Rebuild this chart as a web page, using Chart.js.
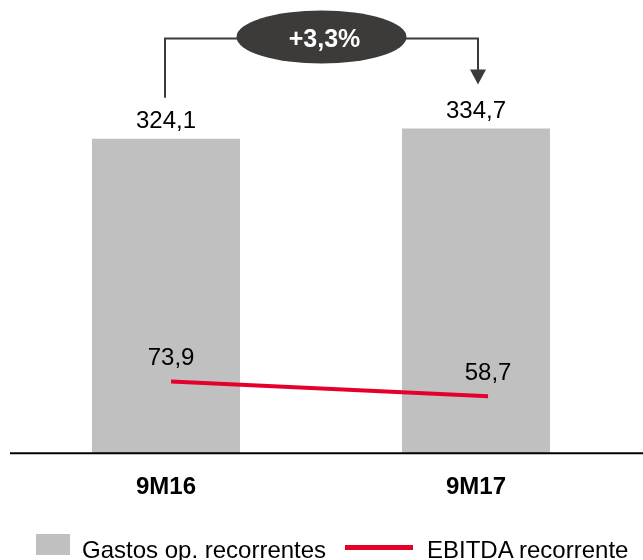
<!DOCTYPE html>
<html>
<head>
<meta charset="utf-8">
<script src="https://cdn.jsdelivr.net/npm/chart.js@4"></script>
<style>
  html, body { margin: 0; padding: 0; background: #fff; }
  #wrap { position: relative; width: 643px; height: 560px; overflow: hidden; font-family: 'Liberation Sans', Arial, sans-serif; }
  #wrap canvas { position: absolute; left: 0; top: 0; }
  .lg { position: absolute; }
  .lgText { position: absolute; font-size: 24px; line-height: 28px; color: #000; white-space: nowrap; }
</style>
</head>
<body>
<div id="wrap">
  <canvas id="c" width="643" height="560"></canvas>
  <div id="legend"></div>
</div>
<script>
const categories = ['9M16', '9M17'];
const gastosValues = [324.1, 334.7];
const ebitdaValues = [73.9, 58.7];
const seriesNames = ['Gastos op. recorrentes', 'EBITDA recorrente'];
const changeLabel = '+3,3%';

const BAR_COLOR = '#c0c0c0';
const LINE_COLOR = '#e4002b';
const DARK = '#3d3b39';
const FONT = "'Liberation Sans', Arial, sans-serif";

const fmt = v => v.toFixed(1).replace('.', ',');

const labelsPlugin = {
  id: 'valueLabels',
  afterDatasetsDraw(chart) {
    const ctx = chart.ctx;
    const yScale = chart.scales.y;
    // baseline
    ctx.save();
    ctx.strokeStyle = '#000';
    ctx.lineWidth = 2;
    ctx.beginPath();
    const by = yScale.getPixelForValue(0);
    ctx.moveTo(10, by);
    ctx.lineTo(chart.width, by);
    ctx.stroke();
    ctx.restore();

    ctx.save();
    ctx.font = '24px ' + FONT;
    ctx.fillStyle = '#000';
    ctx.textAlign = 'center';
    ctx.textBaseline = 'middle';
    const barMeta = chart.getDatasetMeta(0);
    barMeta.data.forEach((el, i) => {
      ctx.fillText(fmt(gastosValues[i]), el.x, el.y - 17);
    });
    const lineMeta = chart.getDatasetMeta(1);
    lineMeta.data.forEach((el, i) => {
      ctx.fillText(fmt(ebitdaValues[i]), el.x, el.y - 23);
    });
    ctx.restore();

    // change annotation
    const b0 = barMeta.data[0], b1 = barMeta.data[1];
    const x0 = b0.x - 1, x1 = b1.x + 2;
    const hy = 38.5;
    const y0 = b0.y - 41;
    const tipY = b1.y - 44;
    ctx.save();
    ctx.strokeStyle = DARK;
    ctx.fillStyle = DARK;
    ctx.lineWidth = 2;
    ctx.beginPath();
    ctx.moveTo(x0, y0);
    ctx.lineTo(x0, hy);
    ctx.lineTo(x1, hy);
    ctx.lineTo(x1, tipY - 14);
    ctx.stroke();
    ctx.beginPath();
    ctx.moveTo(x1 - 8, tipY - 15);
    ctx.lineTo(x1 + 8, tipY - 15);
    ctx.lineTo(x1, tipY);
    ctx.closePath();
    ctx.fill();
    const cx = (x0 + x1) / 2;
    ctx.beginPath();
    ctx.ellipse(cx, 37, 85, 26.5, 0, 0, Math.PI * 2);
    ctx.fill();
    ctx.fillStyle = '#fff';
    ctx.font = 'bold 25px ' + FONT;
    ctx.textAlign = 'center';
    ctx.textBaseline = 'middle';
    ctx.fillText(changeLabel, cx + 3, 40);
    ctx.restore();
  }
};

const chart = new Chart(document.getElementById('c'), {
  type: 'bar',
  data: {
    labels: categories,
    datasets: [
      {
        type: 'bar',
        label: seriesNames[0],
        data: gastosValues,
        xAxisID: 'x',
        backgroundColor: BAR_COLOR,
        barPercentage: 148 / 310,
        categoryPercentage: 1,
        grouped: false,
        order: 2
      },
      {
        type: 'line',
        label: seriesNames[1],
        data: ebitdaValues.map((v, i) => ({ x: i, y: v })),
        xAxisID: 'x2',
        borderColor: LINE_COLOR,
        backgroundColor: LINE_COLOR,
        borderWidth: 4,
        pointRadius: 0,
        tension: 0,
        order: 1
      }
    ]
  },
  options: {
    responsive: false,
    animation: false,
    layout: { padding: { top: 7, left: 11, right: 12, bottom: 46 } },
    plugins: { legend: { display: false }, tooltip: { enabled: false } },
    scales: {
      x: {
        type: 'category',
        grid: { display: false },
        border: { display: false },
        ticks: { color: '#000', font: { family: FONT, size: 24, weight: 'bold' }, padding: 12 }
      },
      x2: { type: 'linear', display: false, offset: false, grid: { offset: false }, min: -0.505, max: 1.451 },
      y: { display: false, min: 0, max: 460 }
    }
  },
  plugins: [labelsPlugin]
});

// HTML legend built from the datasets
const legend = document.getElementById('legend');
const ds = chart.data.datasets;
const items = [
  { color: ds[0].backgroundColor, text: ds[0].label, mark: { left: 36, top: 534, w: 34, h: 21 }, textLeft: 82 },
  { color: ds[1].borderColor, text: ds[1].label, mark: { left: 345, top: 545, w: 68, h: 5 }, textLeft: 427 }
];
items.forEach(it => {
  const m = document.createElement('div');
  m.className = 'lg';
  m.style.left = it.mark.left + 'px';
  m.style.top = it.mark.top + 'px';
  m.style.width = it.mark.w + 'px';
  m.style.height = it.mark.h + 'px';
  m.style.background = it.color;
  legend.appendChild(m);
  const t = document.createElement('div');
  t.className = 'lgText';
  t.style.left = it.textLeft + 'px';
  t.style.top = '536px';
  t.textContent = it.text;
  legend.appendChild(t);
});
</script>
</body>
</html>
